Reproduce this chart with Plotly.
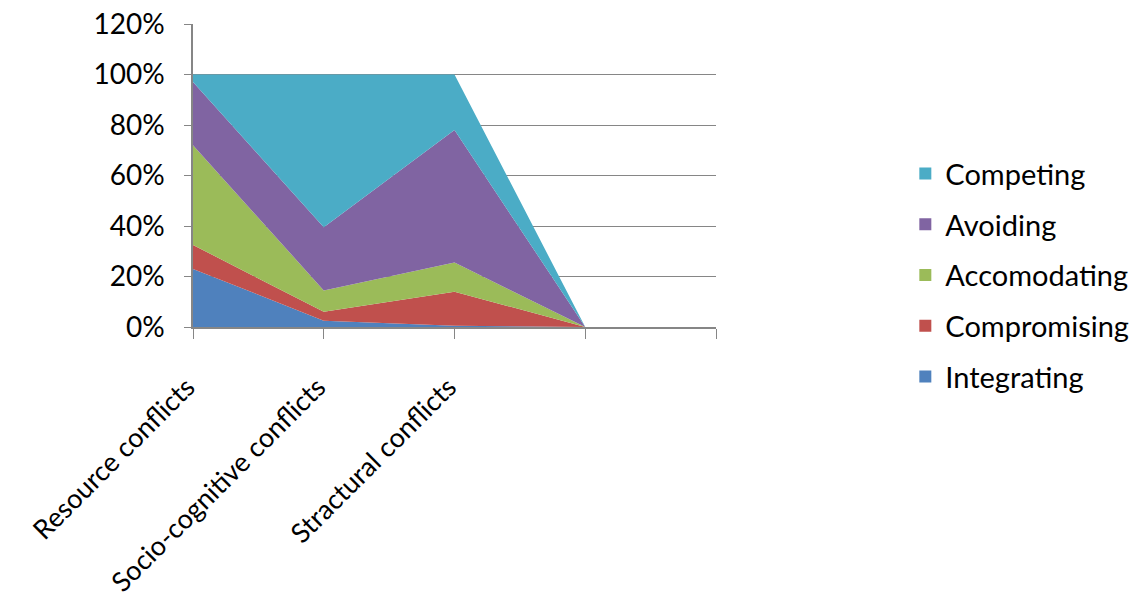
import plotly.graph_objects as go

categories = ["Resource conflicts", "Socio-cognitive conflicts", "Stractural conflicts", "", ""]
series_names = ["Integrating", "Compromising", "Accomodating", "Avoiding", "Competing"]
integrating = [0.23, 0.025, 0.005, 0.0]
compromising = [0.095, 0.035, 0.135, 0.0]
accomodating = [0.395, 0.085, 0.115, 0.0]
avoiding = [0.25, 0.25, 0.525, 0.0]
competing = [0.03, 0.605, 0.22, 0.0]
colors = ["#4F81BD", "#C0504D", "#9BBB59", "#8064A2", "#4BACC6"]
y_ticks = [0, 0.2, 0.4, 0.6, 0.8, 1.0, 1.2]

values = [integrating, compromising, accomodating, avoiding, competing]
xs = list(range(len(integrating)))

fig = go.Figure()
for name, vals, col in zip(series_names, values, colors):
    fig.add_trace(go.Scatter(
        x=xs, y=vals, name=name, stackgroup="one", mode="none",
        fillcolor=col, showlegend=False, hoverinfo="skip"))

# legend entries, top to bottom: Competing ... Integrating
for name, col in reversed(list(zip(series_names, colors))):
    fig.add_trace(go.Scatter(
        x=[None], y=[None], name=name, mode="markers",
        marker=dict(symbol="square", size=15, color=col),
        legendgroup=name))

fig.update_layout(
    width=1139, height=599,
    margin=dict(l=193, r=423, t=24, b=272, autoexpand=False),
    paper_bgcolor="white", plot_bgcolor="white",
    font=dict(family="Lato, Open Sans, sans-serif", size=28, color="#000"),
    legend=dict(
        x=1.362, y=0.59, xanchor="left", yanchor="top",
        traceorder="grouped", tracegroupgap=10,
        font=dict(size=29), itemsizing="constant"),
    showlegend=True,
)
fig.update_xaxes(
    range=[0, 4], tickmode="array", tickvals=list(range(len(categories))),
    ticktext=categories, tickangle=-45, ticks="outside", ticklen=10,
    tickcolor="#868686", showline=True, linecolor="#868686", linewidth=1.5,
    showgrid=False, zeroline=False, tickfont=dict(size=27),
    automargin=False, ticklabelstandoff=22, ticklabelshift=-6)
fig.update_yaxes(
    range=[0, 1.2], tickvals=y_ticks, tickformat=".0%", ticks="outside",
    ticklen=7, tickcolor="#868686", showline=True, linecolor="#868686",
    linewidth=1.5, showgrid=True, gridcolor="#868686", gridwidth=1.2,
    zeroline=False, tickfont=dict(size=28), ticklabelstandoff=14,
    automargin=False)

fig.write_html("out.html")
